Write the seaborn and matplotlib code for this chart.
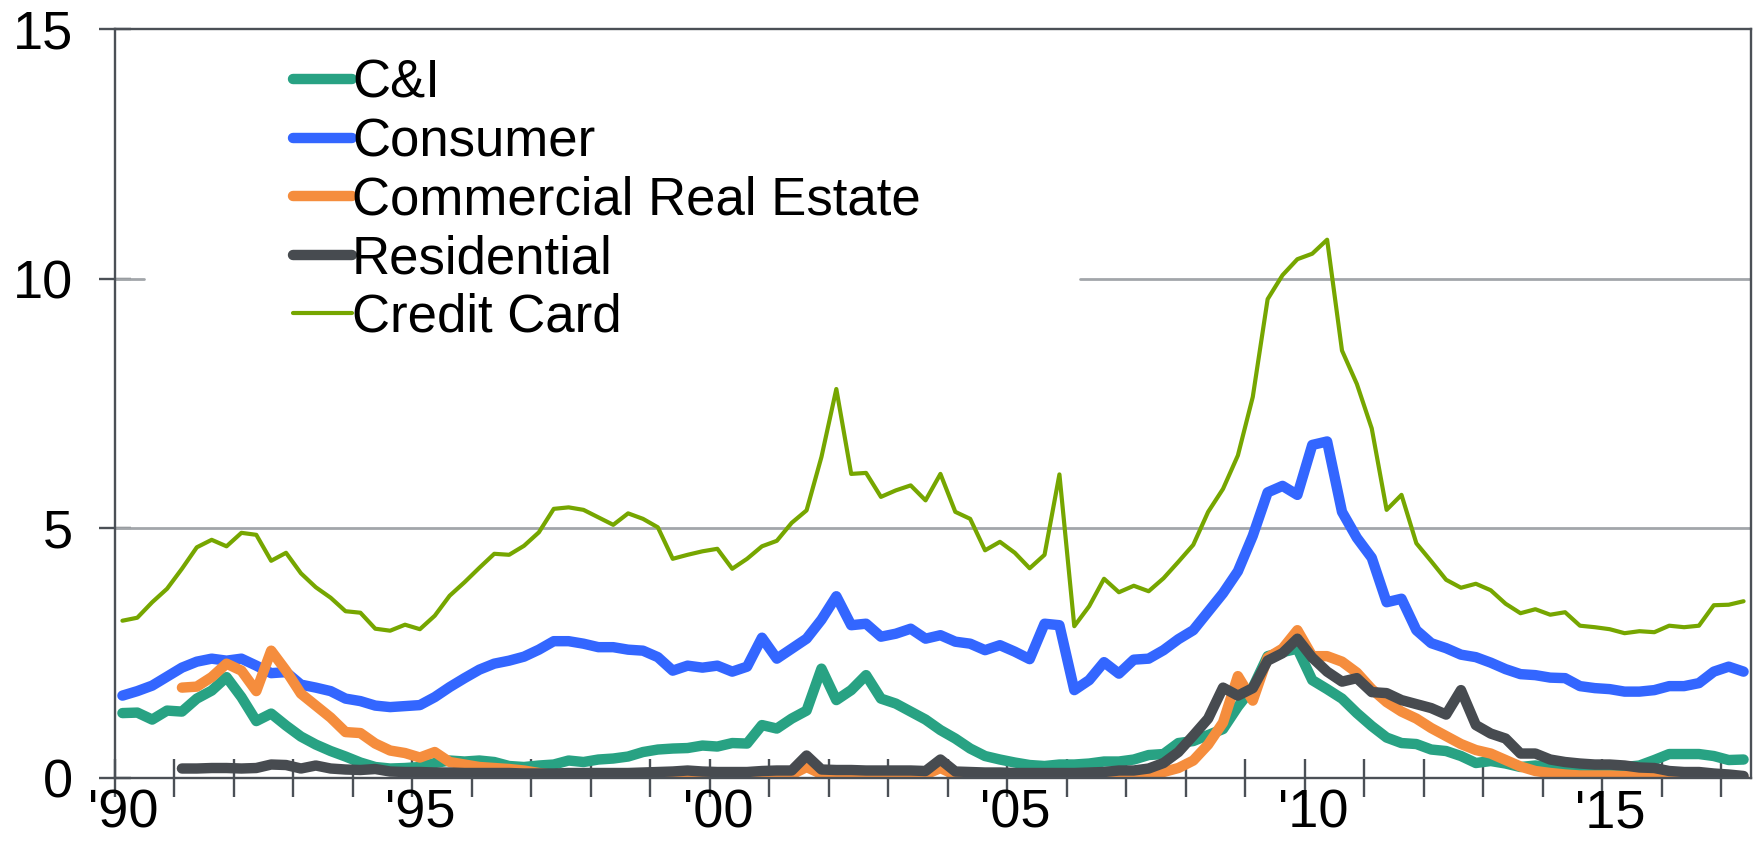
import numpy as np
import pandas as pd
import matplotlib
matplotlib.use("Agg")
import matplotlib.pyplot as plt
import matplotlib.transforms as mtransforms
import seaborn as sns
from matplotlib.ticker import MultipleLocator, FuncFormatter

# ---------------- data (quarterly charge-off rates, %) ----------------
first_quarter = "1990Q1"
last_quarter = "2017Q2"

series_names = ["C&I", "Consumer", "Commercial Real Estate", "Residential", "Credit Card"]

ci = [1.30, 1.31, 1.17, 1.35, 1.33, 1.59, 1.75, 2.02, 1.62, 1.14, 1.29, 1.05,
      0.83, 0.67, 0.54, 0.43, 0.31, 0.22, 0.19, 0.20, 0.22, 0.30, 0.35, 0.33,
      0.35, 0.32, 0.24, 0.22, 0.25, 0.27, 0.35, 0.32, 0.37, 0.39, 0.43, 0.52,
      0.57, 0.59, 0.60, 0.65, 0.63, 0.70, 0.69, 1.06, 0.99, 1.19, 1.35, 2.19,
      1.56, 1.76, 2.06, 1.59, 1.49, 1.33, 1.17, 0.96, 0.79, 0.59, 0.44, 0.37,
      0.31, 0.26, 0.24, 0.27, 0.27, 0.29, 0.33, 0.33, 0.37, 0.46, 0.48, 0.70,
      0.74, 0.86, 0.98, 1.43, 1.81, 2.44, 2.52, 2.59, 1.96, 1.78, 1.59, 1.30,
      1.04, 0.81, 0.70, 0.68, 0.57, 0.54, 0.44, 0.30, 0.34, 0.29, 0.22, 0.25,
      0.22, 0.19, 0.19, 0.19, 0.21, 0.22, 0.25, 0.36, 0.48, 0.48, 0.48, 0.44,
      0.36, 0.37]

consumer = [1.65, 1.74, 1.85, 2.03, 2.21, 2.33, 2.39, 2.35, 2.39, 2.25, 2.10, 2.12,
            1.87, 1.81, 1.74, 1.59, 1.54, 1.45, 1.42, 1.44, 1.46, 1.62, 1.82, 2.00,
            2.17, 2.29, 2.35, 2.43, 2.57, 2.74, 2.74, 2.69, 2.62, 2.62, 2.57, 2.55,
            2.42, 2.15, 2.25, 2.21, 2.25, 2.13, 2.23, 2.81, 2.39, 2.59, 2.79, 3.17,
            3.64, 3.06, 3.09, 2.83, 2.89, 2.99, 2.79, 2.86, 2.73, 2.69, 2.56, 2.66,
            2.53, 2.38, 3.09, 3.06, 1.76, 1.96, 2.32, 2.09, 2.37, 2.39, 2.56, 2.78,
            2.96, 3.33, 3.70, 4.14, 4.85, 5.72, 5.85, 5.67, 6.67, 6.74, 5.33, 4.81,
            4.41, 3.52, 3.59, 2.96, 2.70, 2.60, 2.47, 2.42, 2.31, 2.18, 2.08, 2.06,
            2.01, 2.00, 1.84, 1.80, 1.78, 1.73, 1.73, 1.76, 1.84, 1.84, 1.90, 2.13,
            2.23, 2.13]

cre = [None, None, None, None,
       1.81, 1.83, 2.02, 2.29, 2.15, 1.74, 2.55, 2.15,
       1.69, 1.45, 1.21, 0.92, 0.90, 0.69, 0.55, 0.50, 0.41, 0.52, 0.32, 0.27,
       0.22, 0.20, 0.18, 0.15, 0.10, 0.06, 0.03, 0.02, 0.02, 0.02, 0.02, 0.03,
       0.03, 0.04, 0.05, 0.03, 0.03, 0.03, 0.04, 0.05, 0.06, 0.07, 0.22, 0.08,
       0.07, 0.06, 0.06, 0.06, 0.06, 0.06, 0.07, 0.20, 0.06, 0.05, 0.04, 0.04,
       0.03, 0.03, 0.03, 0.03, 0.03, 0.04, 0.04, 0.05, 0.06, 0.07, 0.12, 0.20,
       0.35, 0.67, 1.11, 2.04, 1.55, 2.41, 2.59, 2.96, 2.44, 2.44, 2.33, 2.11,
       1.78, 1.52, 1.33, 1.19, 1.00, 0.84, 0.68, 0.56, 0.49, 0.36, 0.23, 0.14,
       0.10, 0.07, 0.05, 0.05, 0.05, 0.04, 0.03, 0.03, 0.02, 0.02, 0.02, 0.02,
       0.01, 0.01]

residential = [None, None, None, None,
               0.19, 0.19, 0.20, 0.20, 0.19, 0.20, 0.27, 0.26,
               0.19, 0.25, 0.19, 0.17, 0.16, 0.18, 0.13, 0.12, 0.12, 0.11, 0.11, 0.10,
               0.10, 0.10, 0.10, 0.09, 0.09, 0.09, 0.10, 0.10, 0.10, 0.10, 0.10, 0.11,
               0.12, 0.13, 0.15, 0.13, 0.12, 0.12, 0.12, 0.14, 0.15, 0.15, 0.45, 0.17,
               0.16, 0.16, 0.15, 0.15, 0.15, 0.15, 0.14, 0.37, 0.13, 0.12, 0.11, 0.11,
               0.10, 0.10, 0.10, 0.10, 0.10, 0.11, 0.12, 0.15, 0.15, 0.19, 0.30, 0.52,
               0.85, 1.19, 1.81, 1.65, 1.80, 2.35, 2.50, 2.79, 2.41, 2.13, 1.93, 2.00,
               1.72, 1.70, 1.56, 1.48, 1.40, 1.27, 1.76, 1.06, 0.89, 0.79, 0.49, 0.49,
               0.37, 0.32, 0.29, 0.27, 0.27, 0.25, 0.21, 0.20, 0.14, 0.12, 0.12, 0.09,
               0.07, 0.04]

credit_card = [3.15, 3.21, 3.52, 3.79, 4.19, 4.62, 4.77, 4.64, 4.91, 4.87, 4.35, 4.51,
               4.10, 3.82, 3.61, 3.34, 3.31, 2.99, 2.95, 3.07, 2.98, 3.25, 3.65, 3.92,
               4.21, 4.49, 4.47, 4.65, 4.92, 5.39, 5.42, 5.37, 5.22, 5.07, 5.30, 5.19,
               5.02, 4.39, 4.47, 4.54, 4.59, 4.19, 4.39, 4.64, 4.75, 5.11, 5.36, 6.43,
               7.79, 6.09, 6.11, 5.63, 5.76, 5.86, 5.56, 6.09, 5.33, 5.19, 4.56, 4.73,
               4.51, 4.20, 4.47, 6.08, 3.04, 3.44, 3.99, 3.72, 3.85, 3.74, 4.00, 4.33,
               4.67, 5.33, 5.79, 6.46, 7.63, 9.59, 10.07, 10.39, 10.50, 10.78, 8.56, 7.89,
               7.00, 5.37, 5.67, 4.70, 4.34, 3.97, 3.81, 3.89, 3.76, 3.49, 3.30, 3.38,
               3.27, 3.32, 3.05, 3.02, 2.98, 2.90, 2.94, 2.92, 3.05, 3.02, 3.05, 3.46,
               3.47, 3.54]

y_ticks = [0, 5, 10, 15]

# ---------------- styling ----------------
colors = {"C&I": "#28a283", "Consumer": "#3366ff", "Commercial Real Estate": "#f58d3d",
          "Residential": "#474b50", "Credit Card": "#76a600"}
widths = {"C&I": 7.5, "Consumer": 7.5, "Commercial Real Estate": 7.5,
          "Residential": 7.5, "Credit Card": 3.0}
axis_color = "#4b5056"
grid_color = "#a2a6aa"

# ---------------- build long table ----------------
periods = pd.period_range(first_quarter, last_quarter, freq="Q")
t = periods.year + (periods.quarter - 0.5) / 4.0
values = {"C&I": ci, "Consumer": consumer, "Commercial Real Estate": cre,
          "Residential": residential, "Credit Card": credit_card}
frames = []
for name in series_names:
    frames.append(pd.DataFrame({"t": t,
                                "value": pd.to_numeric(pd.Series(values[name]), errors="coerce"),
                                "series": name}))
df = pd.concat(frames, ignore_index=True)

sns.set_theme(style="white")
plt.rcParams["font.family"] = ["Liberation Sans", "DejaVu Sans"]

fig = plt.figure(figsize=(17.54, 8.5), dpi=100)
ax = fig.add_axes([115 / 1754, 1 - 778 / 850, 1636 / 1754, 749 / 850])

# grid lines (the one at 10 is hidden behind the legend block on the left)
ax.axhline(5, color=grid_color, lw=2.0, zorder=1)
ax.axhline(10, xmin=0.59, xmax=1, color=grid_color, lw=2.0, zorder=1)
ax.axhline(10, xmin=0.0, xmax=0.0175, color=grid_color, lw=2.0, zorder=1)

for name in series_names:
    sub = df[df["series"] == name].dropna()
    sns.lineplot(data=sub, x="t", y="value", ax=ax, color=colors[name],
                 linewidth=widths[name], label=name, estimator=None, sort=False,
                 solid_capstyle="round", solid_joinstyle="round", zorder=3)

ax.set_xlim(1990, 2017.5)
ax.set_ylim(0, 15)
ax.set_xlabel("")
ax.set_ylabel("")
ax.set_yticks(y_ticks)
ax.xaxis.set_major_locator(MultipleLocator(5))
ax.xaxis.set_minor_locator(MultipleLocator(1))
ax.xaxis.set_major_formatter(FuncFormatter(lambda v, p: "'%02d" % (int(round(v)) % 100)))

for s in ax.spines.values():
    s.set_visible(True)
    s.set_color(axis_color)
    s.set_linewidth(1.7)
    s.set_zorder(4)

ax.tick_params(axis="both", which="both", direction="inout", width=1.7,
               color=axis_color, labelsize=39, labelcolor="black")
ax.tick_params(axis="x", which="both", bottom=True, top=False, length=27, pad=-6.0)
ax.tick_params(axis="y", which="both", left=True, right=False, length=23, pad=19)

# x labels sit slightly right of their ticks in the reference
offset = mtransforms.ScaledTranslation(8 / 100, 0, fig.dpi_scale_trans)
for lab in ax.get_xticklabels():
    lab.set_transform(lab.get_transform() + offset)

handles, labels = ax.get_legend_handles_labels()
leg = ax.legend(handles, labels, loc="upper left", bbox_to_anchor=(0.1088, 0.960),
                frameon=False, fontsize=38, labelspacing=0.16, handlelength=1.12,
                handletextpad=0.0, borderpad=0.0, borderaxespad=0.0, labelcolor="black")

fig.savefig("out.png", dpi=100, facecolor="white")
